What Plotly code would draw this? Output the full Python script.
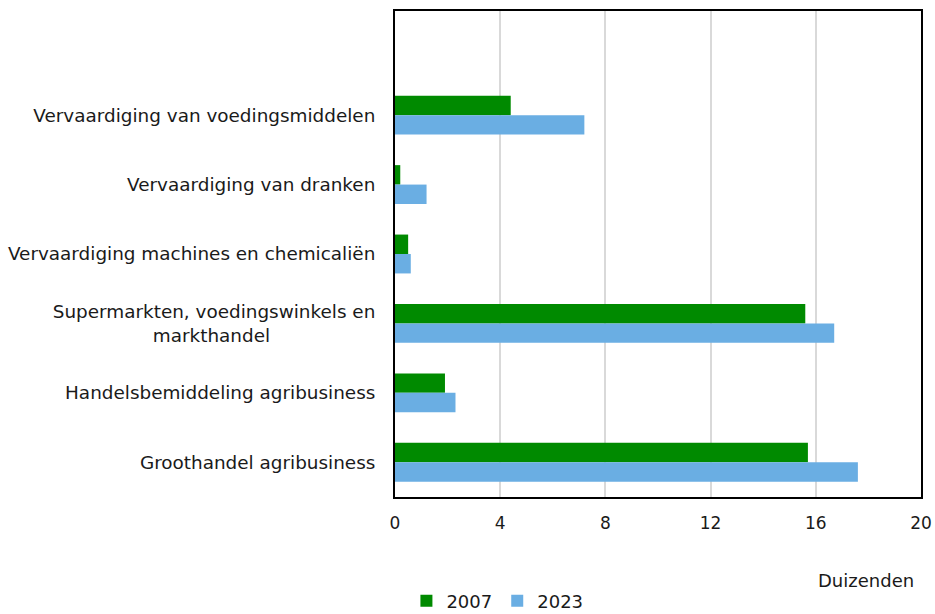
import plotly.graph_objects as go

# Categories, top to bottom as in the chart
categories = [
    "Vervaardiging van voedingsmiddelen",
    "Vervaardiging van dranken",
    "Vervaardiging machines en chemicaliën",
    "Supermarkten, voedingswinkels en<br>markthandel" + "\u00a0" * 18,
    "Handelsbemiddeling agribusiness",
    "Groothandel agribusiness",
]

# Values in thousands (Duizenden)
values_2007 = [4.4, 0.2, 0.5, 15.6, 1.9, 15.7]
values_2023 = [7.2, 1.2, 0.6, 16.7, 2.3, 17.6]

tick_vals = [0, 4, 8, 12, 16, 20]

font_family = "Verdana, DejaVu Sans, sans-serif"

fig = go.Figure()
fig.add_trace(go.Bar(y=categories, x=values_2007, name="2007", orientation="h",
                     marker=dict(color="#008a00", line=dict(width=0))))
fig.add_trace(go.Bar(y=categories, x=values_2023, name="2023", orientation="h",
                     marker=dict(color="#6aaee3", line=dict(width=0))))

fig.update_layout(
    width=935, height=614,
    margin=dict(l=395, r=14, t=11, b=117, autoexpand=False),
    plot_bgcolor="white", paper_bgcolor="white",
    barmode="group", bargap=0.44, bargroupgap=0,
    font=dict(family=font_family, size=18, color="#1a1a1a"),
    showlegend=True,
    legend=dict(orientation="h", xref="container", yref="container",
                x=0.532, xanchor="center", y=0.021, yanchor="middle",
                font=dict(size=18), itemwidth=30, traceorder="normal"),
    xaxis=dict(range=[0, 20], tickvals=tick_vals, showgrid=True,
               gridcolor="#d9d9d9", gridwidth=2, zeroline=False,
               showline=True, linecolor="black", linewidth=2, mirror=True,
               ticks="", ticklabelstandoff=10, tickfont=dict(size=17),
               automargin=False),
    yaxis=dict(autorange=False, range=[5.5, -1.5], showgrid=False,
               showline=True, linecolor="black", linewidth=2, mirror=True,
               ticks="", ticklabelstandoff=14, categoryorder="array",
               categoryarray=categories, tickfont=dict(size=18.4),
               automargin=False),
    annotations=[dict(text="Duizenden", xref="paper", yref="paper",
                      x=0.895, y=-0.171, showarrow=False,
                      font=dict(size=18), xanchor="center", yanchor="middle")],
)

# drop the default page margin so the figure sits at the window corner
fig.write_html("out.html", config={"displayModeBar": False},
               post_script="document.body.style.margin='0';")
